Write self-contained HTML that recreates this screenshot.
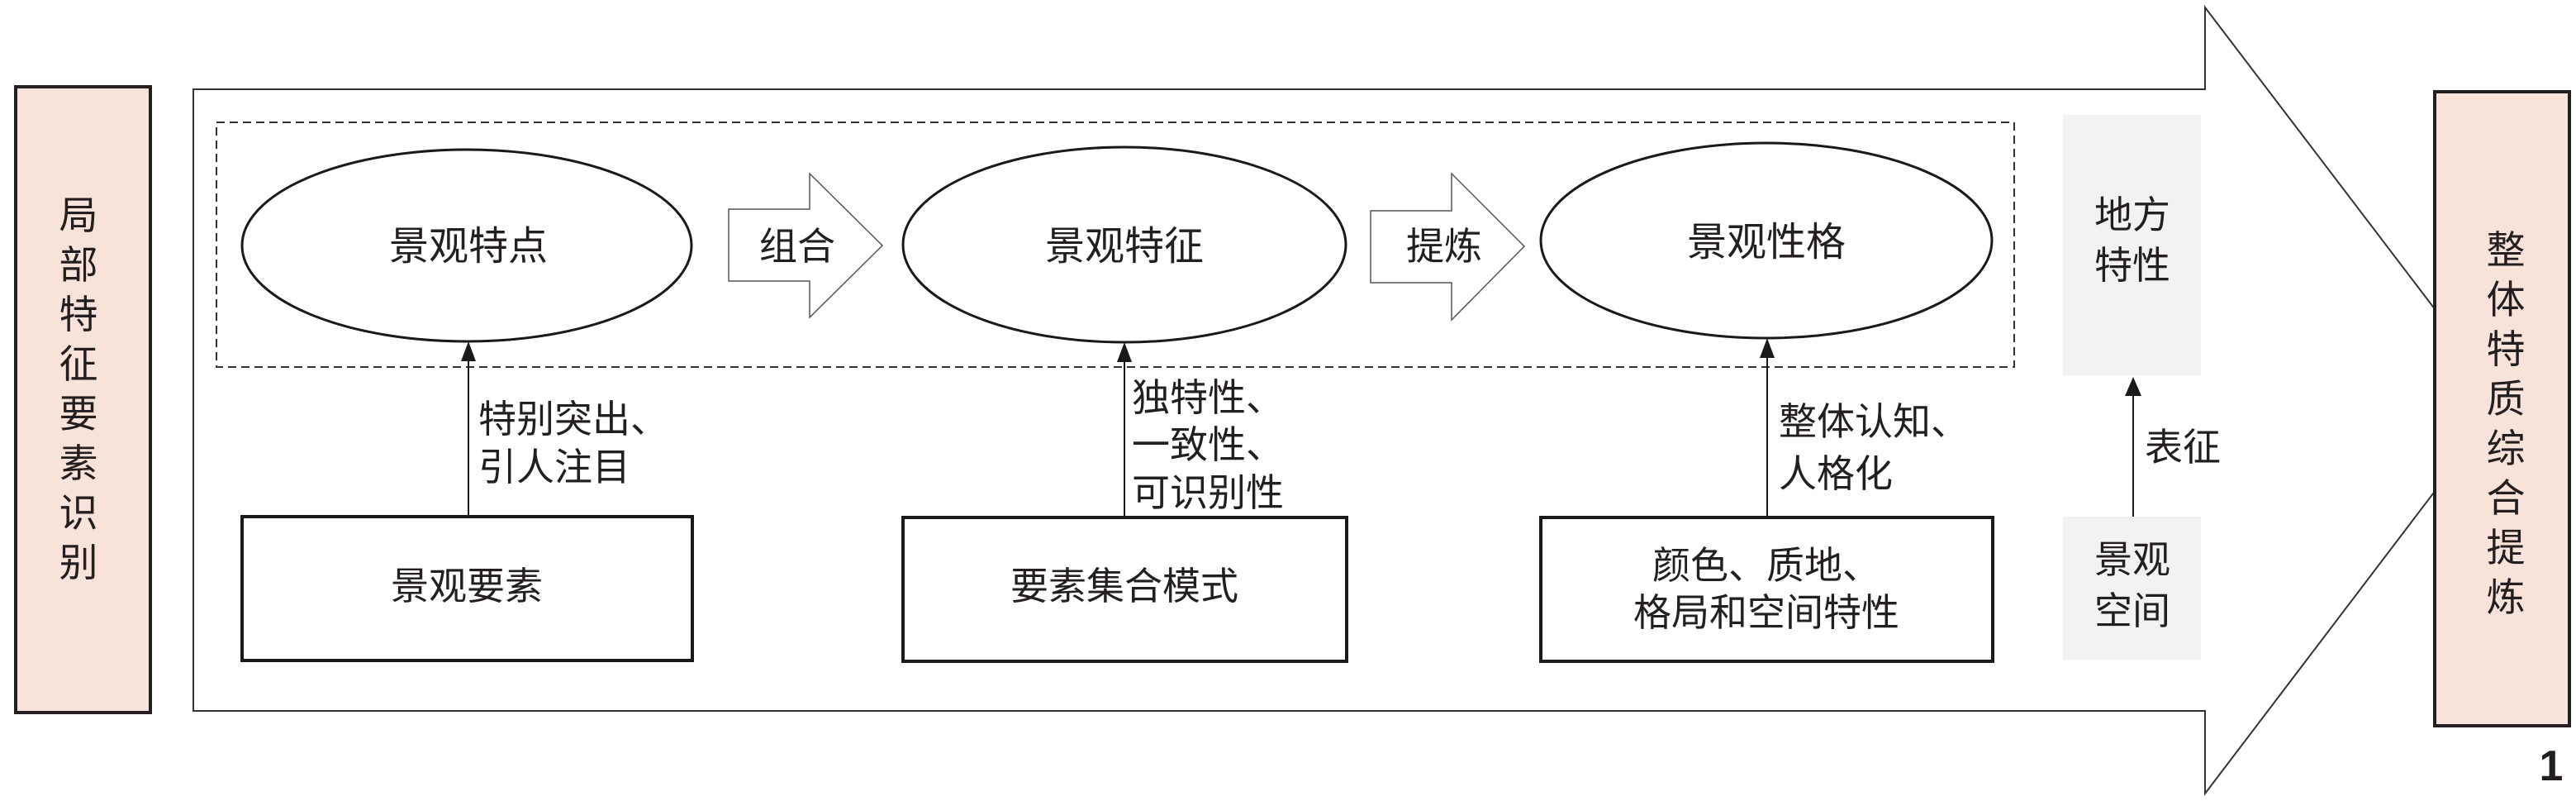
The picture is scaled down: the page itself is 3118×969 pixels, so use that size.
<!DOCTYPE html>
<html><head><meta charset="utf-8"><style>
html,body{margin:0;padding:0;background:#fff;}
svg{display:block;}
text{font-family:"Liberation Sans","Noto Sans CJK SC",sans-serif;fill:#231f20;}
</style></head><body>
<svg width="3118" height="969" viewBox="0 0 3118 969" xmlns="http://www.w3.org/2000/svg">
<!-- big arrow -->
<path d="M234,108 L2669,108 L2669,9 L3031,484 L2669,960 L2669,860 L234,860 Z" fill="#fff" stroke="#333" stroke-width="2"/>
<!-- left box -->
<rect x="19" y="105" width="163" height="757" fill="#f8e3da" stroke="#231f20" stroke-width="4"/>
<g font-size="47" text-anchor="middle">
<text x="95" y="277">局</text><text x="95" y="337">部</text><text x="95" y="397">特</text><text x="95" y="457">征</text><text x="95" y="517">要</text><text x="95" y="577">素</text><text x="95" y="637">识</text><text x="95" y="697">别</text>
</g>
<!-- right box -->
<rect x="2947" y="111" width="163" height="767" fill="#f8e3da" stroke="#231f20" stroke-width="4"/>
<g font-size="47" text-anchor="middle">
<text x="3033" y="319">整</text><text x="3033" y="379">体</text><text x="3033" y="439">特</text><text x="3033" y="499">质</text><text x="3033" y="559">综</text><text x="3033" y="619">合</text><text x="3033" y="679">提</text><text x="3033" y="739">炼</text>
</g>
<text x="3088" y="944" font-size="52" text-anchor="middle" font-weight="bold">1</text>
<!-- dashed box -->
<rect x="262" y="148" width="2176" height="296" fill="none" stroke="#333" stroke-width="2" stroke-dasharray="10,6"/>
<!-- ellipses -->
<ellipse cx="565" cy="297" rx="272" ry="116" fill="#fff" stroke="#1a1a1a" stroke-width="3"/>
<ellipse cx="1361" cy="296" rx="268" ry="118" fill="#fff" stroke="#1a1a1a" stroke-width="3"/>
<ellipse cx="2138" cy="291" rx="273" ry="118" fill="#fff" stroke="#1a1a1a" stroke-width="3"/>
<g font-size="48" text-anchor="middle">
<text x="567" y="314">景观特点</text>
<text x="1361" y="314">景观特征</text>
<text x="2138" y="309">景观性格</text>
</g>
<!-- hollow arrows -->
<path d="M882,253 L980,253 L980,210 L1068,297 L980,384 L980,340 L882,340 Z" fill="#fff" stroke="#555" stroke-width="1.5"/>
<path d="M1659,255 L1757,255 L1757,210 L1845,298 L1757,387 L1757,342 L1659,342 Z" fill="#fff" stroke="#555" stroke-width="1.5"/>
<text x="965" y="314" font-size="46" text-anchor="middle">组合</text>
<text x="1748" y="314" font-size="46" text-anchor="middle">提炼</text>
<!-- bottom boxes -->
<rect x="293" y="625" width="545" height="174" fill="#fff" stroke="#1a1a1a" stroke-width="4"/>
<rect x="1093" y="626" width="537" height="174" fill="#fff" stroke="#1a1a1a" stroke-width="4"/>
<rect x="1865" y="626" width="547" height="174" fill="#fff" stroke="#1a1a1a" stroke-width="4"/>
<g font-size="46" text-anchor="middle">
<text x="565" y="725">景观要素</text>
<text x="1361" y="725">要素集合模式</text>
<text x="2138" y="700">颜色、质地、</text>
<text x="2138" y="757">格局和空间特性</text>
</g>
<!-- connectors -->
<g stroke="#1a1a1a" stroke-width="2">
<line x1="567" y1="625" x2="567" y2="430"/>
<line x1="1361" y1="626" x2="1361" y2="432"/>
<line x1="2139" y1="626" x2="2139" y2="427"/>
<line x1="2582" y1="625" x2="2582" y2="470"/>
</g>
<g fill="#1a1a1a">
<path d="M567,413 L558,437 L576,437 Z"/>
<path d="M1361,414 L1352,438 L1370,438 Z"/>
<path d="M2139,409 L2130,433 L2148,433 Z"/>
<path d="M2582,456 L2572,479 L2592,479 Z"/>
</g>
<g font-size="46">
<text x="579" y="523">特别突出、</text>
<text x="579" y="581">引人注目</text>
<text x="1370" y="497">独特性、</text>
<text x="1370" y="554">一致性、</text>
<text x="1370" y="612">可识别性</text>
<text x="2153" y="526">整体认知、</text>
<text x="2153" y="589">人格化</text>
<text x="2596" y="557">表征</text>
</g>
<!-- grey boxes -->
<rect x="2497" y="139" width="167" height="315" fill="#f2f2f2"/>
<rect x="2497" y="625" width="167" height="173" fill="#f2f2f2"/>
<g font-size="46" text-anchor="middle">
<text x="2581" y="276">地方</text>
<text x="2581" y="337">特性</text>
<text x="2581" y="693">景观</text>
<text x="2581" y="755">空间</text>
</g>
</svg>
</body></html>
